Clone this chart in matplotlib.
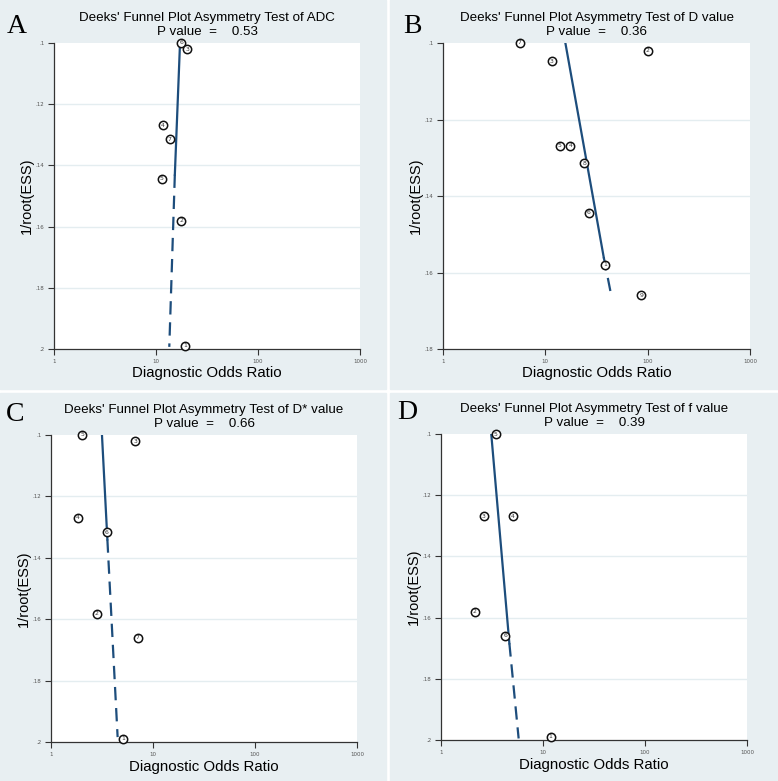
import numpy as np
import matplotlib.pyplot as plt

# panel A - ADC
a_study = [6, 3, 4, 7, 5, 2, 1]
a_dor = [17.7, 20.3, 11.6, 13.6, 11.4, 17.7, 19.2]
a_ess = [0.1, 0.1021, 0.1269, 0.1315, 0.1443, 0.1581, 0.1989]
a_fit_y = [0.1, 0.143, 0.1993]
a_fit_dor = [17.2, 15.3, 13.5]

# panel B - D value
b_study = [7, 3, 2, 5, 4, 8, 6, 1, 9]
b_dor = [5.6, 11.6, 100, 13.9, 17.6, 24, 26.6, 38.4, 86.5]
b_ess = [0.1, 0.1048, 0.102, 0.1269, 0.1269, 0.1315, 0.1444, 0.158, 0.166]
b_fit_y = [0.1, 0.156, 0.1655]
b_fit_dor = [15.7, 37.2, 43.7]

# panel C - D* value
c_study = [5, 3, 4, 6, 2, 7, 1]
c_dor = [2.03, 6.7, 1.84, 3.54, 2.82, 7.08, 5.08]
c_ess = [0.1, 0.1021, 0.127, 0.1317, 0.1582, 0.166, 0.199]
c_fit_y = [0.1, 0.134, 0.1984]
c_fit_dor = [3.16, 3.57, 4.5]

# panel D - f value
d_study = [5, 3, 4, 2, 6, 1]
d_dor = [3.43, 2.62, 5.04, 2.15, 4.27, 11.9]
d_ess = [0.1, 0.1269, 0.1269, 0.1581, 0.1659, 0.1989]
d_fit_y = [0.1, 0.1684, 0.1995]
d_fit_dor = [3.11, 4.68, 5.77]

titles = ["Deeks' Funnel Plot Asymmetry Test of ADC",
          "Deeks' Funnel Plot Asymmetry Test of D value",
          "Deeks' Funnel Plot Asymmetry Test of D* value",
          "Deeks' Funnel Plot Asymmetry Test of f value"]
pvals = ["0.53", "0.36", "0.66", "0.39"]
letters = ["A", "B", "C", "D"]
ymaxs = [0.2, 0.18, 0.2, 0.2]

W, H = 778, 781
bg = '#e8eff2'
navy = '#1d4d7c'

fig = plt.figure(figsize=(W / 100, H / 100), dpi=100)
fig.patch.set_facecolor('white')

def fx(px):
    return px / W

def fy(px):
    return 1 - px / H

# panel backgrounds (pixel boxes: x0, y0, x1, y1 from top-left)
panels = [(0, 0, 386, 389), (390, 0, 778, 389), (0, 393, 386, 781), (390, 393, 778, 781)]
for x0, y0, x1, y1 in panels:
    fig.patches.append(plt.Rectangle((fx(x0), fy(y1)), (x1 - x0) / W, (y1 - y0) / H,
                                     transform=fig.transFigure, color=bg, zorder=-10))

# axes boxes in pixels: left, top, right, bottom
boxes = [(54, 43, 360, 349), (443, 43, 750, 349), (51, 435, 357, 742), (441, 434, 747, 740)]
letter_pos = [(17, 33), (412, 33), (15, 421), (407, 419)]

data = [(a_study, a_dor, a_ess, a_fit_y, a_fit_dor),
        (b_study, b_dor, b_ess, b_fit_y, b_fit_dor),
        (c_study, c_dor, c_ess, c_fit_y, c_fit_dor),
        (d_study, d_dor, d_ess, d_fit_y, d_fit_dor)]

for i, (l, t, r, b) in enumerate(boxes):
    ax = fig.add_axes([fx(l), fy(b), (r - l) / W, (b - t) / H])
    study, dor, ess, fit_y, fit_d = data[i]
    ax.set_xscale('log')
    ax.set_xlim(1, 1000)
    ax.set_ylim(ymaxs[i], 0.1)
    yt = np.round(np.arange(0.1, ymaxs[i] + 0.001, 0.02), 2)
    ax.set_yticks(yt)
    ax.set_yticklabels([("%g" % v).lstrip('0') for v in yt])
    ax.set_xticks([1, 10, 100, 1000])
    ax.set_xticklabels(['1', '10', '100', '1000'])
    ax.minorticks_off()
    for v in yt[1:-1]:
        ax.axhline(v, color='#e4edf0', lw=1, zorder=0)
    for s in ['top', 'right']:
        ax.spines[s].set_visible(False)
    for s in ['left', 'bottom']:
        ax.spines[s].set_color('#333333')
        ax.spines[s].set_linewidth(0.9)
    ax.tick_params(labelsize=4, colors='#333333', labelcolor='#555555', length=4,
                   width=0.8, pad=3)

    ax.plot(fit_d[:2], fit_y[:2], color=navy, lw=1.6, zorder=2)
    ax.plot(fit_d[1:], fit_y[1:], color=navy, lw=1.6, dashes=(6, 3.5), zorder=2)

    ax.scatter(dor, ess, s=36, facecolor='white', edgecolor='#111111', linewidth=1.1,
               zorder=3, clip_on=False)
    for n, x, y in zip(study, dor, ess):
        ax.text(x, y, str(n), fontsize=4.4, ha='center', va='center', zorder=4,
                color='#333333')

    ax.set_xlabel('Diagnostic Odds Ratio', fontsize=10.8, family='Liberation Sans', labelpad=2)
    ax.set_ylabel('1/root(ESS)', fontsize=10.5, family='Liberation Sans', labelpad=1)

    cx = (l + r) / 2
    fig.text(fx(cx), fy(t - 25), titles[i], fontsize=9.6, family='Liberation Sans',
             ha='center', va='center')
    fig.text(fx(cx), fy(t - 11), 'P value  =    ' + pvals[i], fontsize=9.6,
             family='Liberation Sans', ha='center', va='center')
    lx, ly = letter_pos[i]
    fig.text(fx(lx), fy(ly), letters[i], fontsize=20, family='Liberation Serif',
             ha='center', va='baseline')

fig.savefig('out.png', dpi=100)
